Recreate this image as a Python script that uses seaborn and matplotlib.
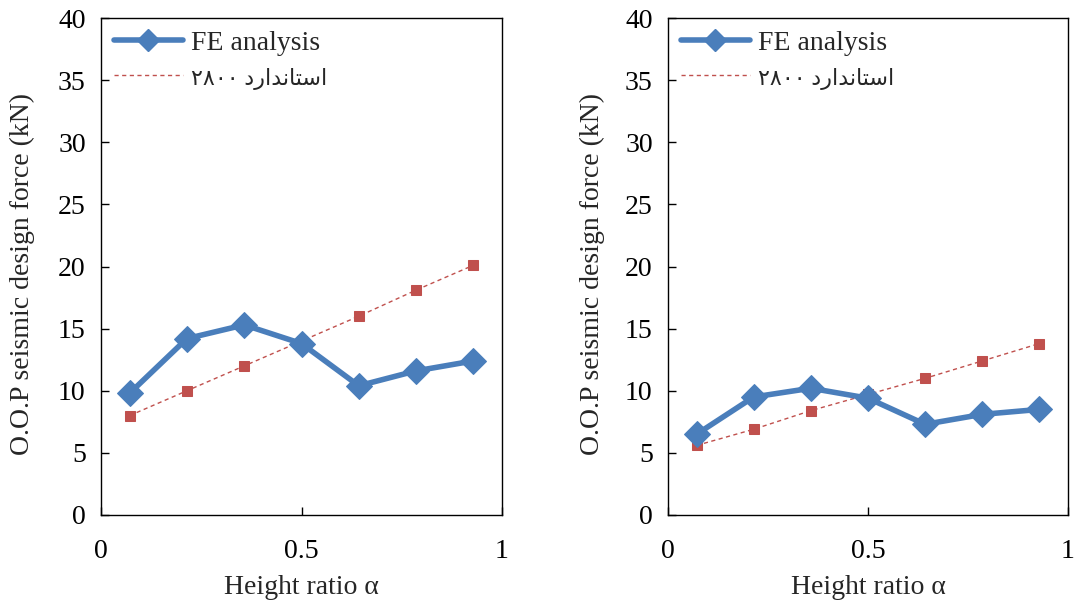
import numpy as np
import pandas as pd
import matplotlib
matplotlib.use("Agg")
import matplotlib.pyplot as plt
from matplotlib.lines import Line2D
import seaborn as sns

# Data
alpha = [0.5/7, 1.5/7, 2.5/7, 3.5/7, 4.5/7, 5.5/7, 6.5/7]
fe_left = [9.8, 14.2, 15.3, 13.8, 10.4, 11.6, 12.4]
std_left = [8.0, 10.0, 12.0, 14.0, 16.0, 18.1, 20.1]
fe_right = [6.5, 9.5, 10.2, 9.4, 7.3, 8.1, 8.5]
std_right = [5.6, 6.9, 8.4, 9.7, 11.0, 12.4, 13.8]

fe_label = "FE analysis"
# "استاندارد ۲۸۰۰" written in visual order with Arabic presentation forms
std_label = "\u06F2\u06F8\u06F0\u06F0 " + "\uFEA9\uFEAD\uFE8D\uFEAA\uFEE7\uFE8E\uFE98\uFEB3\uFE8D"
x_label = "Height ratio \u03B1"
y_label = "O.O.P seismic design force (kN)"
x_ticks = [0, 0.5, 1]
x_ticklabels = ["0", "0.5", "1"]
y_ticks = [0, 5, 10, 15, 20, 25, 30, 35, 40]

sns.set_style("ticks")
plt.rcParams['font.family'] = ['Liberation Serif', 'DejaVu Sans']

blue = "#4A7EBB"
red = "#C0504D"
FS = 20

fig = plt.figure(figsize=(10.75, 6.01), dpi=100)
ax1 = fig.add_axes([101/1075, 1-515/601, 401/1075, 497/601])
ax2 = fig.add_axes([668/1075, 1-515/601, 400/1075, 497/601])

panels = [(ax1, fe_left, std_left, -0.165), (ax2, fe_right, std_right, -0.158)]
for ax, fe, st, ylx in panels:
    df = pd.DataFrame({"alpha": alpha, "fe": fe, "std": st})
    sns.lineplot(data=df, x="alpha", y="std", ax=ax, color=red, linewidth=1.0,
                 linestyle=(0, (3, 2.5)), marker="s", markersize=7,
                 markeredgecolor=red, markerfacecolor=red, zorder=2)
    sns.lineplot(data=df, x="alpha", y="fe", ax=ax, color=blue, linewidth=4,
                 marker="D", markersize=13, markeredgecolor=blue,
                 markerfacecolor=blue, zorder=3)
    ax.set_xlim(0, 1)
    ax.set_ylim(0, 40)
    ax.set_xticks(x_ticks)
    ax.set_xticklabels(x_ticklabels)
    ax.set_yticks(y_ticks)
    ax.tick_params(axis="both", direction="in", length=6, width=1,
                   labelsize=FS, colors="black", pad=11)
    ax.tick_params(axis="x", pad=17)
    ax.set_xlabel(x_label, fontsize=FS, labelpad=8)
    ax.set_ylabel(y_label, fontsize=FS)
    ax.yaxis.set_label_coords(ylx, 0.485)
    for s in ax.spines.values():
        s.set_visible(True)
        s.set_color("black")
        s.set_linewidth(1.0)
    handles = [
        Line2D([], [], color=blue, linewidth=4, marker="D", markersize=11),
        Line2D([], [], color=red, linewidth=1.0, linestyle=(0, (3, 2.5))),
    ]
    leg = ax.legend(handles, [fe_label, std_label], loc="upper left", frameon=False,
                    fontsize=FS, handlelength=2.5, borderaxespad=0.0, borderpad=0.45,
                    labelspacing=0.35, handletextpad=0.3)
    leg.get_texts()[1].set_fontsize(16)

fig.savefig("out.png", dpi=100)
